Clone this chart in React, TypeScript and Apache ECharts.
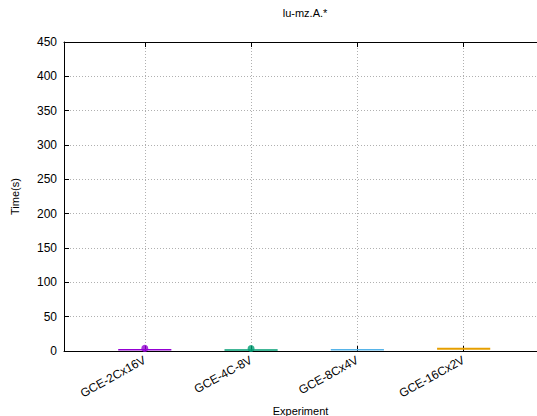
import React, { useEffect, useRef } from "react";
import * as echarts from "echarts";

const categories = ["GCE-2Cx16V", "GCE-4C-8V", "GCE-8Cx4V", "GCE-16Cx2V"];
const boxLow = [0.8, 0.8, 1.2, 2.0];
const boxHigh = [2.8, 2.6, 2.8, 4.6];
const boxColors = ["#9400d3", "#009e73", "#56b4e9", "#e69f00"];
const outliers: [number, number][] = [
  [0, 3.8],
  [1, 3.6],
];
const outlierColors = ["#9400d3", "#009e73"];
const yTicks = [0, 50, 100, 150, 200, 250, 300, 350, 400, 450];

export default function App() {
  const ref = useRef<HTMLDivElement>(null);
  useEffect(() => {
    if (!ref.current) return;
    const chart = echarts.init(ref.current, null, { renderer: "svg" });
    const font = "Liberation Sans, Arial, sans-serif";
    const grid = { color: "#b0b0b0", type: [1, 2] as number[], width: 1 };
    chart.setOption({
      animation: false,
      title: {
        text: "lu-mz.A.*",
        left: 300,
        textAlign: "center",
        top: 2,
        textStyle: { fontFamily: font, fontSize: 11, fontWeight: "normal", color: "#000" },
      },
      grid: { left: 64, right: 0, top: 42, bottom: 65, containLabel: false, outerBoundsMode: "none" },
      xAxis: [
        {
          type: "value",
          min: -0.76,
          max: 3.69,
          minInterval: 1,
          maxInterval: 1,
          name: "Experiment",
          nameLocation: "middle",
          nameGap: 49,
          nameTextStyle: { fontFamily: font, fontSize: 11, color: "#000" },
          axisLine: { show: true, onZero: false, lineStyle: { color: "#000", width: 1 } },
          axisTick: { show: true, inside: true, length: 5, lineStyle: { color: "#000" } },
          axisLabel: {
            rotate: 29,
            fontFamily: font,
            fontSize: 12,
            color: "#000",
            margin: 8,
            showMinLabel: false,
            showMaxLabel: false,
            formatter: (v: number) =>
              Number.isInteger(v) && v >= 0 && v < categories.length ? categories[v] : "",
          },
          splitLine: { show: true, lineStyle: grid },
        },
        {
          type: "value",
          position: "top",
          min: -0.76,
          max: 3.69,
          minInterval: 1,
          maxInterval: 1,
          axisLine: { show: true, onZero: false, lineStyle: { color: "#000", width: 1 } },
          axisTick: { show: true, inside: true, length: 5, lineStyle: { color: "#000" } },
          axisLabel: { show: false },
          splitLine: { show: false },
        },
      ],
      yAxis: {
        type: "value",
        min: 0,
        max: 450,
        interval: 50,
        name: "Time(s)",
        nameLocation: "middle",
        nameGap: 44,
        nameTextStyle: { fontFamily: font, fontSize: 11, color: "#000" },
        axisLine: { show: true, onZero: false, lineStyle: { color: "#000", width: 1 } },
        axisTick: { show: true, inside: true, length: 5, lineStyle: { color: "#000" } },
        axisLabel: {
          fontFamily: font,
          fontSize: 12,
          color: "#000",
          margin: 7,
          formatter: (v: number) => (yTicks.includes(v) ? String(v) : ""),
        },
        splitLine: { show: true, lineStyle: grid },
      },
      series: [
        {
          type: "custom",
          xAxisIndex: 0,
          data: categories.map((_, i) => [i, boxLow[i], boxHigh[i]]),
          renderItem: (params: any, api: any) => {
            const i = api.value(0);
            const p1 = api.coord([i - 0.25, api.value(2)]);
            const p2 = api.coord([i + 0.25, api.value(1)]);
            return {
              type: "rect",
              shape: { x: p1[0], y: p1[1], width: p2[0] - p1[0], height: Math.max(p2[1] - p1[1], 1.5) },
              style: { fill: boxColors[params.dataIndex] },
            };
          },
          z: 3,
        },
        {
          type: "scatter",
          xAxisIndex: 0,
          symbol: "circle",
          symbolSize: 7,
          data: outliers.map((p, i) => ({ value: p, itemStyle: { color: outlierColors[i] } })),
          z: 4,
        },
      ],
    });
    return () => chart.dispose();
  }, []);
  return <div ref={ref} style={{ width: 537, height: 416, position: "absolute", left: 0, top: 0 }} />;
}
